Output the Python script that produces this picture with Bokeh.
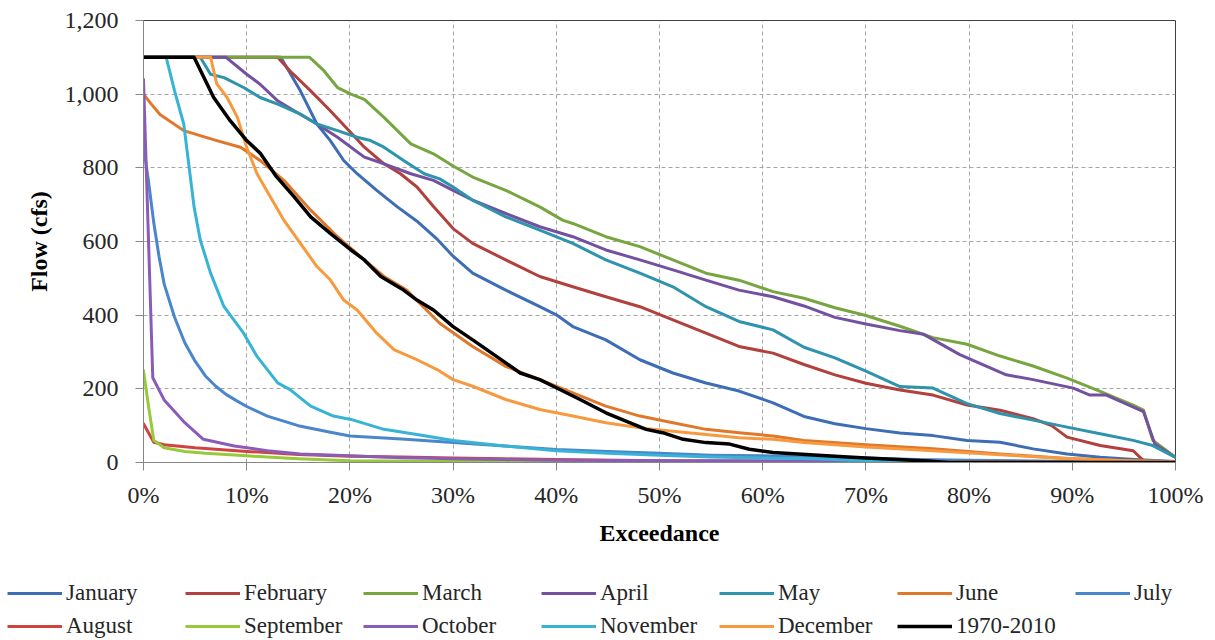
from bokeh.plotting import figure
from bokeh.layouts import column
from bokeh.models import (Range1d, FixedTicker, NumeralTickFormatter,
                          PrintfTickFormatter, Legend, LegendItem)
from bokeh.embed import file_html
from bokeh.resources import INLINE

# Flow duration curves: exceedance (%) vs flow (cfs), by month and for the full record
jan_x = [0, 13.3, 15.2, 16.8, 18.1, 19.4, 20.7, 22.6, 24.6, 26.5, 28.5, 30, 31.9, 35.1, 38.4, 40, 41.6, 44.8,
         48.1, 51.3, 54.5, 57.7, 61, 64, 67, 70, 73.3, 76.5, 79.8, 83, 86.2, 89.5, 92.7, 96, 100]
jan_y = [1100, 1100, 1009, 919, 874, 820, 784, 739, 694, 655, 605, 560, 514, 468, 423, 401, 369, 333,
         279, 243, 216, 194, 162, 125, 105, 92, 80, 73, 60, 55, 37, 23, 14, 8, 3]

feb_x = [0, 13, 14.2, 16.2, 18.1, 20.1, 21.4, 23.3, 24.9, 26.5, 28.1, 30, 31.9, 35.1, 38.4, 41.6, 44.8, 48.1,
         51.3, 54.5, 57.7, 61, 64, 67, 70, 73.3, 76.5, 79.8, 83, 86.2, 88, 89.5, 92.7, 95.9, 96.9, 97.5, 100]
feb_y = [1100, 1100, 1063, 1009, 955, 895, 856, 811, 784, 748, 695, 635, 595, 550, 505, 477, 450, 423,
         387, 351, 315, 297, 266, 238, 215, 197, 183, 156, 142, 119, 100, 69, 46, 32, 5, 0, 0]

mar_x = [0, 16.1, 17.5, 18.8, 20.1, 21.4, 23.3, 25.9, 28.1, 30, 31.9, 35.1, 38.4, 40.6, 41.6, 44.8, 48.1,
         51.3, 54.5, 57.7, 61, 64, 67, 70, 73.3, 76.5, 79.8, 83, 86.2, 89.5, 92.7, 95.9, 96.9, 97.8, 100]
mar_y = [1100, 1100, 1063, 1018, 1000, 986, 937, 865, 838, 805, 775, 739, 694, 658, 649, 613, 586,
         550, 514, 495, 464, 446, 420, 399, 370, 339, 321, 289, 262, 229, 193, 156, 142, 60, 14]

apr_x = [0, 8, 10, 11.3, 13, 14.6, 16.8, 18.8, 20.1, 21.4, 23.3, 25.9, 28.1, 30, 31.9, 35.1, 38.4, 41.6,
         44.8, 48.1, 51.3, 54.5, 57.7, 61, 64, 67, 70, 73.3, 75.6, 79.1, 83.6, 86.2, 90.1, 91.7, 93.3,
         96.9, 98, 100]
apr_y = [1100, 1100, 1054, 1027, 982, 955, 919, 883, 856, 829, 811, 784, 766, 739, 712, 676, 640, 613,
         577, 550, 523, 495, 468, 450, 425, 394, 376, 358, 348, 293, 238, 225, 202, 183, 183,
         138, 50, 14]

may_x = [0, 5.5, 6.5, 7.8, 9.7, 11.3, 13, 15.2, 16.8, 18.8, 20.7, 22, 23.3, 25.2, 27.2, 28.7, 30, 31.9,
         35.1, 38.4, 41.6, 44.8, 48.1, 51.3, 54.5, 57.7, 61, 64, 67, 70, 73.3, 76.5, 79.8, 83, 86.2,
         89.5, 92.7, 95.9, 97.8, 100]
may_y = [1100, 1100, 1054, 1045, 1018, 991, 973, 946, 919, 901, 883, 874, 856, 820, 784, 770, 748, 712,
         667, 631, 595, 550, 514, 477, 423, 383, 360, 313, 284, 248, 206, 202, 160, 133, 115,
         96, 78, 60, 46, 14]

jun_x = [0, 0.7, 1.6, 3.9, 7.1, 9.4, 11.3, 13.6, 16.2, 18.8, 21.4, 23.3, 25.5, 28.7, 31.9, 35.1, 38.4,
         41.6, 44.8, 48.1, 51.3, 54.5, 57.7, 61, 64, 70, 76.5, 83, 89.5, 96, 100]
jun_y = [1000, 975, 945, 901, 874, 856, 820, 766, 685, 613, 550, 505, 468, 378, 315, 261, 225,
         189, 153, 126, 108, 90, 81, 72, 60, 48, 37, 23, 11, 5, 2]

jul_x = [0, 0.5, 1, 1.5, 2, 3, 4, 5, 6, 7, 8, 9, 10, 12, 15, 18, 20, 25, 30, 35, 40, 45, 50, 55, 60, 65,
         70, 75, 80, 90, 100]
jul_y = [860, 760, 650, 560, 485, 395, 325, 275, 235, 207, 185, 168, 152, 126, 100, 83, 72, 64, 54, 45,
         35, 30, 25, 20, 18, 14, 12, 8, 6, 3, 1]

aug_x = [0, 1, 2, 5, 10, 15, 20, 25, 30, 35, 40, 50, 60, 70, 80, 90, 100]
aug_y = [105, 55, 48, 40, 30, 22, 17, 15, 12, 10, 8, 5, 4, 3, 2, 1, 0]

sep_x = [0, 0.5, 1, 2, 4, 6, 10, 15, 20, 30, 40, 100]
sep_y = [250, 150, 60, 40, 30, 25, 18, 10, 5, 3, 2, 0]

oct_x = [0, 0.9, 2, 4, 5.8, 8.8, 12, 15.2, 20, 25, 30, 35, 40, 50, 60, 70, 80, 100]
oct_y = [1040, 230, 170, 108, 63, 45, 32, 23, 18, 13, 10, 8, 6, 5, 4, 2, 1, 0]

nov_x = [0, 2.2, 3, 3.9, 4.9, 5.5, 6.5, 7.8, 9.7, 11, 13, 14.2, 16.2, 18.4, 20.1, 23.3, 26.5, 30, 35,
         40, 45, 50, 55, 60, 65, 70, 75, 80, 100]
nov_y = [1100, 1100, 1010, 919, 694, 604, 514, 423, 351, 288, 216, 198, 153, 126, 117, 90, 76, 60, 45,
         32, 25, 20, 15, 12, 10, 5, 3, 0, 0]

dec_x = [0, 6.5, 7.1, 8.1, 9.1, 10, 11, 12.3, 13.6, 15.2, 16.8, 18.1, 19.4, 20.7, 22.6, 24.3, 26.5,
         28.6, 30, 31.9, 35.1, 38.4, 41.6, 44.8, 48.1, 51.3, 54.5, 57.7, 61, 64, 70, 76.5, 83, 89.5,
         95, 100]
dec_y = [1100, 1100, 1028, 991, 937, 856, 784, 721, 658, 595, 532, 496, 441, 414, 351, 306, 279,
         250, 225, 207, 171, 144, 126, 108, 94, 85, 76, 67, 63, 54, 42, 32, 21, 11,
         5, 2]

all_x = [0, 4.9, 6.8, 8.4, 10, 11.3, 12.8, 14.6, 16.2, 18.1, 20.1, 21.4, 23, 25.2, 26.5, 28.1, 30, 31.9,
         34.2, 36.5, 38.4, 40, 42.3, 44.8, 47.1, 48.7, 50.3, 52.3, 54.5, 56.8, 58.7, 61, 64.2, 67, 70,
         73, 76, 78, 100]
all_y = [1100, 1100, 991, 928, 874, 840, 779, 721, 667, 622, 577, 550, 505, 468, 441, 414, 369, 333,
         288, 243, 225, 203, 171, 135, 108, 90, 81, 63, 54, 50, 36, 27, 22, 17, 12,
         8, 4, 0, 0]

series_names = ["January", "February", "March", "April", "May", "June", "July",
                "August", "September", "October", "November", "December", "1970-2010"]
series_x = [jan_x, feb_x, mar_x, apr_x, may_x, jun_x, jul_x, aug_x, sep_x, oct_x, nov_x, dec_x, all_x]
series_y = [jan_y, feb_y, mar_y, apr_y, may_y, jun_y, jul_y, aug_y, sep_y, oct_y, nov_y, dec_y, all_y]
series_colors = ["#3D6DB4", "#B2403D", "#77A640", "#7451A0", "#2E93AD", "#E0782B", "#4A86CC",
                 "#D04340", "#98C83C", "#8A5CB8", "#37B3D6", "#F79A3F", "#000000"]

x_ticks = list(range(0, 101, 10))
y_ticks = list(range(0, 1201, 200))

SERIF = "Liberation Serif"
TEXT = "#262626"

def series_width(name):
    return 3.5 if name == "1970-2010" else 3

# ---- main chart ----
p = figure(width=1215, height=560, output_backend="svg", toolbar_location=None,
           x_range=Range1d(0, 100), y_range=Range1d(0, 1200),
           min_border_left=143, min_border_right=40, min_border_top=20, min_border_bottom=98)
p.frame_align = False
p.background_fill_color = "white"
p.border_fill_color = "white"
p.outline_line_color = "#404040"
p.outline_line_width = 1

p.xaxis.ticker = FixedTicker(ticks=x_ticks)
p.xaxis.formatter = PrintfTickFormatter(format="%d%%")
p.yaxis.ticker = FixedTicker(ticks=y_ticks)
p.yaxis.formatter = NumeralTickFormatter(format="0,0")
for ax in (p.xaxis, p.yaxis):
    ax.axis_line_color = "#868686"
    ax.major_tick_line_color = "#868686"
    ax.major_tick_in = 0
    ax.major_tick_out = 8
    ax.minor_tick_line_color = None
    ax.major_label_text_font = SERIF
    ax.major_label_text_font_size = "24px"
    ax.major_label_text_color = TEXT
    ax.axis_label_text_font = SERIF
    ax.axis_label_text_font_size = "24px"
    ax.axis_label_text_font_style = "bold"
    ax.axis_label_text_color = "#000000"
p.xaxis.axis_label = "Exceedance"
p.yaxis.axis_label = "Flow (cfs)"
p.xaxis.major_label_standoff = 11
p.xaxis.axis_label_standoff = 9
p.yaxis.major_label_standoff = 17
p.yaxis.axis_label_standoff = 10

for g in (p.xgrid, p.ygrid):
    g.grid_line_color = "#A6A6A6"
    g.grid_line_dash = "4 3"
    g.grid_line_width = 1
p.xgrid.ticker = FixedTicker(ticks=x_ticks)
p.ygrid.ticker = FixedTicker(ticks=y_ticks)

for name, xs, ys, col in zip(series_names, series_x, series_y, series_colors):
    p.line(xs, ys, line_color=col, line_width=series_width(name),
           line_join="round", line_cap="round")

# ---- legend strip below the chart ----
# the same series are drawn here with a y window far above the data, so only the key shows
lg = figure(width=1215, height=80, output_backend="svg", toolbar_location=None,
            x_range=Range1d(0, 100), y_range=Range1d(5000, 6000), min_border=0)
lg.frame_align = False
lg.axis.visible = False
lg.grid.visible = False
lg.outline_line_color = None
lg.background_fill_color = "white"
lg.border_fill_color = "white"

keys = []
for name, xs, ys, col in zip(series_names, series_x, series_y, series_colors):
    keys.append(lg.line(xs, ys, line_color=col, line_width=series_width(name)))

def make_legend(names, rends, vy):
    leg = Legend(items=[LegendItem(label=n, renderers=[r]) for n, r in zip(names, rends)],
                 orientation="horizontal", location=(7, vy),
                 glyph_width=55, glyph_height=20, label_height=20, label_width=108,
                 label_standoff=4, spacing=11, padding=0, margin=0,
                 border_line_alpha=0, background_fill_alpha=0,
                 label_text_font=SERIF, label_text_font_size="23px", label_text_color=TEXT)
    lg.add_layout(leg, "center")

make_legend(series_names[:7], keys[:7], 34)
make_legend(series_names[7:], keys[7:], 1)

layout = column(p, lg, spacing=0)
open("out.html", "w").write(file_html(layout, INLINE))
